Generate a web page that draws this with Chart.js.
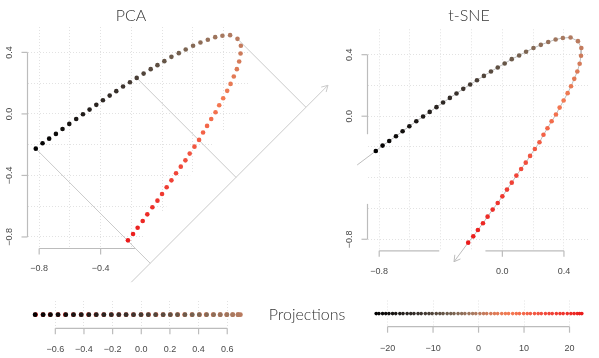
<!DOCTYPE html>
<html>
<head>
<meta charset="utf-8">
<script src="https://cdn.jsdelivr.net/npm/chart.js@4.4.0/dist/chart.umd.min.js"></script>
<style>
  html, body { margin: 0; padding: 0; background: #fff; }
  #wrap { position: relative; width: 599px; height: 358px; overflow: hidden; }
  #wrap canvas { position: absolute; left: 0; top: 0; }
  .title { position: absolute; transform: translate(-50%, -50%); font-family: 'Lato', 'Open Sans', sans-serif; font-weight: 300; color: #333; white-space: nowrap; }
</style>
</head>
<body>
<div id="wrap">
  <canvas id="pca" width="599" height="358"></canvas>
  <canvas id="tsne" width="599" height="358"></canvas>
  <canvas id="pcaStrip" width="599" height="358"></canvas>
  <canvas id="tsneStrip" width="599" height="358"></canvas>
  <div class="title" style="left:131px; top:14px; font-size:16px;">PCA</div>
  <div class="title" style="left:469px; top:14px; font-size:16px;">t-SNE</div>
  <div class="title" style="left:307px; top:313px; font-size:16px;">Projections</div>
</div>
<script>
// --- Data ---
const pointX = [-0.822,-0.778,-0.735,-0.691,-0.648,-0.604,-0.559,-0.515,-0.472,-0.428,-0.385,-0.341,-0.298,-0.254,-0.209,-0.165,-0.120,-0.074,-0.030,0.015,0.061,0.109,0.154,0.202,0.250,0.298,0.346,0.393,0.443,0.491,0.513,0.511,0.502,0.487,0.467,0.446,0.424,0.398,0.372,0.348,0.320,0.293,0.267,0.241,0.211,0.180,0.152,0.122,0.091,0.061,0.030,0.000,-0.030,-0.063,-0.096,-0.126,-0.159,-0.189,-0.222];
const pointY = [-0.226,-0.191,-0.161,-0.130,-0.098,-0.065,-0.033,-0.002,0.028,0.059,0.089,0.119,0.148,0.178,0.206,0.234,0.262,0.291,0.317,0.343,0.371,0.395,0.419,0.443,0.464,0.482,0.499,0.508,0.512,0.488,0.443,0.393,0.341,0.291,0.243,0.195,0.150,0.102,0.056,0.011,-0.033,-0.078,-0.121,-0.169,-0.213,-0.258,-0.302,-0.343,-0.386,-0.432,-0.477,-0.521,-0.564,-0.607,-0.653,-0.696,-0.740,-0.781,-0.822];

const pcaProjection = [-0.741,-0.685,-0.634,-0.581,-0.527,-0.473,-0.419,-0.366,-0.314,-0.261,-0.209,-0.157,-0.106,-0.054,-0.002,0.049,0.100,0.153,0.203,0.253,0.305,0.356,0.405,0.456,0.505,0.552,0.598,0.637,0.675,0.692,0.676,0.639,0.596,0.550,0.502,0.453,0.406,0.354,0.303,0.254,0.203,0.152,0.103,0.051,-0.001,-0.055,-0.106,-0.156,-0.209,-0.262,-0.316,-0.368,-0.420,-0.474,-0.530,-0.581,-0.636,-0.686,-0.738];
const tsneProjection = [-22.5,-21.9,-21.1,-20.4,-19.7,-18.9,-18.2,-17.3,-16.6,-15.7,-14.9,-14.2,-13.3,-12.6,-11.7,-10.9,-10.2,-9.3,-8.5,-7.8,-6.9,-6.1,-5.4,-4.5,-3.7,-3.0,-2.1,-1.3,-0.6,0.3,1.1,1.8,2.7,3.5,4.2,5.1,5.9,6.6,7.5,8.3,9.0,9.9,10.7,11.4,12.3,13.1,13.8,14.7,15.5,16.2,17.1,17.9,18.6,19.5,20.3,21.0,21.7,22.2,22.7];

// PCA guide lines: projection axis and three perpendicular drops (point index -> foot)
const pcaAxisEnds = [[-0.200, -1.094], [1.080, 0.186]];
const pcaDropFrom = [0, 15, 29];
const pcaDropFoot = [[-0.077, -0.971], [0.482, -0.413], [0.937, 0.043]];
// t-SNE path extension before the first point and arrow tip after the last
const tsneStart = [-0.943, -0.317];
const tsneTip = [-0.314, -0.946];

// ticks
const panelGrid = [-0.8, -0.6, -0.4, -0.2, 0, 0.2, 0.4];
const pcaXLabels = [-0.8, -0.4];
const pcaYLabels = [0.4, 0, -0.4, -0.8];
const tsneXLabels = [-0.8, 0, 0.4];
const tsneYLabels = [0.4, 0, -0.8];
const pcaStripTicks = [-0.6, -0.4, -0.2, 0, 0.2, 0.4, 0.6];
const tsneStripTicks = [-20, -10, 0, 10, 20];

// --- Styles ---
const W = 599, H = 358;
const axisColor = '#bcbcbc';
const guideColor = '#cacaca';
const gridColor = '#e2e2e2';
const labelColor = '#4a4a4a';
const labelFont = { family: "'Liberation Sans', Arial, sans-serif", size: 9 };
const colorStops = [[0, '#000000'], [0.22, '#3b332e'], [0.36, '#73604f'], [0.47, '#a97a61'], [0.56, '#da7a57'], [0.64, '#f47a52'], [0.82, '#f1473a'], [1, '#ea1b1b']];

function hexRgb(h) { return [1, 3, 5].map(i => parseInt(h.substr(i, 2), 16)); }
function rampColor(t) {
    for (let i = 1; i < colorStops.length; i++) {
        if (t <= colorStops[i][0]) {
            const [t0, c0] = colorStops[i - 1], [t1, c1] = colorStops[i];
            const f = (t - t0) / (t1 - t0), a = hexRgb(c0), b = hexRgb(c1);
            return 'rgb(' + a.map((v, k) => Math.round(v + (b[k] - v) * f)).join(',') + ')';
        }
    }
    return colorStops[colorStops.length - 1][1];
}
const pointColors = pointX.map((_, i) => rampColor(i / (pointX.length - 1)));

function fmt(v, digits) {
    const s = Math.abs(v).toFixed(digits);
    return (v < 0 ? '\u2212' : '') + s;
}

// R-style detached axes, drawn through the chart scales
const rAxis = {
    id: 'rAxis',
    beforeDatasetsDraw(chart, args, opts) {
        const ctx = chart.ctx, xs = chart.scales.x, ys = chart.scales.y, area = chart.chartArea;
        const seg = (x1, y1, x2, y2) => { ctx.beginPath(); ctx.moveTo(x1, y1); ctx.lineTo(x2, y2); ctx.stroke(); };
        ctx.save();
        if (opts.erase) {
            ctx.fillStyle = '#fff';
            ctx.beginPath();
            opts.erase.forEach(([x, y], i) => {
                const px = xs.getPixelForValue(x), py = ys.getPixelForValue(y);
                i ? ctx.lineTo(px, py) : ctx.moveTo(px, py);
            });
            ctx.closePath();
            ctx.fill();
        }
        ctx.strokeStyle = axisColor;
        ctx.lineWidth = 1.2;
        const yb = area.bottom, xl = area.left;
        (opts.xSegments || []).forEach(([a, b]) => seg(xs.getPixelForValue(a), yb, xs.getPixelForValue(b), yb));
        (opts.xTicks || []).forEach(v => { const px = xs.getPixelForValue(v); seg(px, yb, px, yb + 6); });
        (opts.ySegments || []).forEach(([a, b]) => seg(xl, ys.getPixelForValue(a), xl, ys.getPixelForValue(b)));
        ctx.fillStyle = labelColor;
        ctx.font = labelFont.size + 'px ' + labelFont.family;
        ctx.textAlign = 'center';
        ctx.textBaseline = 'middle';
        (opts.yTicks || []).forEach(v => {
            const py = ys.getPixelForValue(v);
            seg(xl - 6, py, xl, py);
            ctx.save();
            ctx.translate(xl - 17.5, py);
            ctx.rotate(-Math.PI / 2);
            ctx.fillText(fmt(v, 1), 0, 0);
            ctx.restore();
        });
        ctx.restore();
    },
    afterDatasetsDraw(chart) {
        const ctx = chart.ctx;
        chart.data.datasets.forEach((ds, i) => {
            if (!ds.arrowHead) return;
            const pts = chart.getDatasetMeta(i).data;
            const a = pts[pts.length - 2], b = pts[pts.length - 1];
            const ang = Math.atan2(b.y - a.y, b.x - a.x), len = 7, spread = Math.PI / 6;
            ctx.save();
            ctx.strokeStyle = ds.borderColor;
            ctx.lineWidth = 1;
            ctx.beginPath();
            ctx.moveTo(b.x - len * Math.cos(ang - spread), b.y - len * Math.sin(ang - spread));
            ctx.lineTo(b.x, b.y);
            ctx.lineTo(b.x - len * Math.cos(ang + spread), b.y - len * Math.sin(ang + spread));
            ctx.stroke();
            ctx.restore();
        });
    }
};

function xy(pairs) { return pairs.map(([x, y]) => ({ x, y })); }

function makeChart(id, box, cfg) {
    const xAxisH = 40;
    return new Chart(document.getElementById(id), {
        type: 'scatter',
        data: { datasets: cfg.datasets },
        plugins: [rAxis],
        options: {
            responsive: false,
            animation: false,
            devicePixelRatio: 1,
            layout: { padding: { left: cfg.yHidden ? box.left : 0, top: box.top, right: W - box.right, bottom: H - box.bottom - xAxisH } },
            plugins: { legend: { display: false }, tooltip: { enabled: false }, rAxis: cfg.axes },
            scales: {
                x: {
                    type: 'linear', min: cfg.xRange[0], max: cfg.xRange[1],
                    afterBuildTicks: s => { s.ticks = cfg.xGrid.map(v => ({ value: v })); },
                    afterFit: s => { s.height = xAxisH; },
                    grid: { color: gridColor, drawTicks: false, lineWidth: 1 },
                    border: { display: false, dash: [1, 2] },
                    ticks: {
                        padding: cfg.labelPad, color: labelColor, font: labelFont, maxRotation: 0, autoSkip: false,
                        callback: v => cfg.xLabels.includes(v) ? fmt(v, cfg.digits) : ''
                    }
                },
                y: {
                    type: 'linear', display: !cfg.yHidden, min: cfg.yRange[0], max: cfg.yRange[1],
                    afterBuildTicks: s => { s.ticks = (cfg.yGrid || []).map(v => ({ value: v })); },
                    afterFit: s => { s.width = cfg.yHidden ? 0 : box.left; },
                    grid: { color: gridColor, drawTicks: false, lineWidth: 1 },
                    border: { display: false, dash: [1, 2] },
                    ticks: { display: false }
                }
            }
        }
    });
}

const mainPoints = pointX.map((x, i) => ({ x, y: pointY[i] }));

// PCA panel
const pcaDatasets = [
    { data: mainPoints, pointBackgroundColor: pointColors, pointBorderWidth: 0, pointRadius: 2.3, order: 0 },
    { type: 'line', data: xy(pcaAxisEnds), borderColor: guideColor, borderWidth: 1, pointRadius: 0, clip: false, arrowHead: true, order: 1 }
];
pcaDropFrom.forEach((idx, k) => {
    pcaDatasets.push({ type: 'line', data: [mainPoints[idx], { x: pcaDropFoot[k][0], y: pcaDropFoot[k][1] }], borderColor: guideColor, borderWidth: 1, pointRadius: 0, clip: false, order: 1 });
});
makeChart('pca', { left: 27.5, right: 249, top: 27, bottom: 248.5 }, {
    datasets: pcaDatasets,
    xRange: [-0.876, 0.566], yRange: [-0.875, 0.565],
    xGrid: panelGrid, yGrid: panelGrid, xLabels: pcaXLabels, digits: 1, labelPad: 15,
    axes: {
        erase: [[-0.38, -1.14], [0.486, 0.0], [0.62, 0.0], [0.62, -1.14]],
        xSegments: [[-0.8, -0.177]], xTicks: pcaXLabels,
        ySegments: [[-0.8, 0.4]], yTicks: pcaYLabels
    }
});

// t-SNE panel
makeChart('tsne', { left: 367.5, right: 589.5, top: 29.3, bottom: 250.8 }, {
    datasets: [
        { data: mainPoints, pointBackgroundColor: pointColors, pointBorderWidth: 0, pointRadius: 2.3, order: 0 },
        { type: 'line', data: [{ x: tsneStart[0], y: tsneStart[1] }, ...mainPoints, { x: tsneTip[0], y: tsneTip[1] }], borderColor: '#bdbdbd', borderWidth: 1, pointRadius: 0, clip: false, arrowHead: true, order: 1 }
    ],
    xRange: [-0.876, 0.566], yRange: [-0.875, 0.565],
    xGrid: panelGrid, yGrid: panelGrid, xLabels: tsneXLabels, digits: 1, labelPad: 15,
    axes: {
        xSegments: [[-0.8, -0.41], [-0.11, 0.4]], xTicks: tsneXLabels,
        ySegments: [[-0.8, -0.57], [-0.117, 0.4]], yTicks: tsneYLabels
    }
});

// projection strips (black arm drawn last so it sits on top)
const pcaStripPts = pcaProjection.map((v, i) => ({ x: v, y: 0.5, c: pointColors[i] })).reverse();
makeChart('pcaStrip', { left: 27.1, right: 249, top: 301, bottom: 328.3 }, {
    datasets: [{ data: pcaStripPts, pointBackgroundColor: pcaStripPts.map(p => p.c), pointBorderWidth: 0, pointRadius: 2.4 }],
    xRange: [-0.797, 0.752], yRange: [0, 1], yHidden: true,
    xGrid: pcaStripTicks, xLabels: pcaStripTicks, digits: 1, labelPad: 16,
    axes: { xSegments: [[-0.6, 0.6]], xTicks: pcaStripTicks }
});

makeChart('tsneStrip', { left: 368, right: 590, top: 300.5, bottom: 326.7 }, {
    datasets: [{ data: tsneProjection.map(v => ({ x: v, y: 0.5 })), pointBackgroundColor: pointColors, pointBorderWidth: 0, pointRadius: 1.8 }],
    xRange: [-24.3, 24.5], yRange: [0, 1], yHidden: true,
    xGrid: tsneStripTicks, xLabels: tsneStripTicks, digits: 0, labelPad: 16,
    axes: { xSegments: [[-20, 20]], xTicks: tsneStripTicks }
});
</script>
</body>
</html>
